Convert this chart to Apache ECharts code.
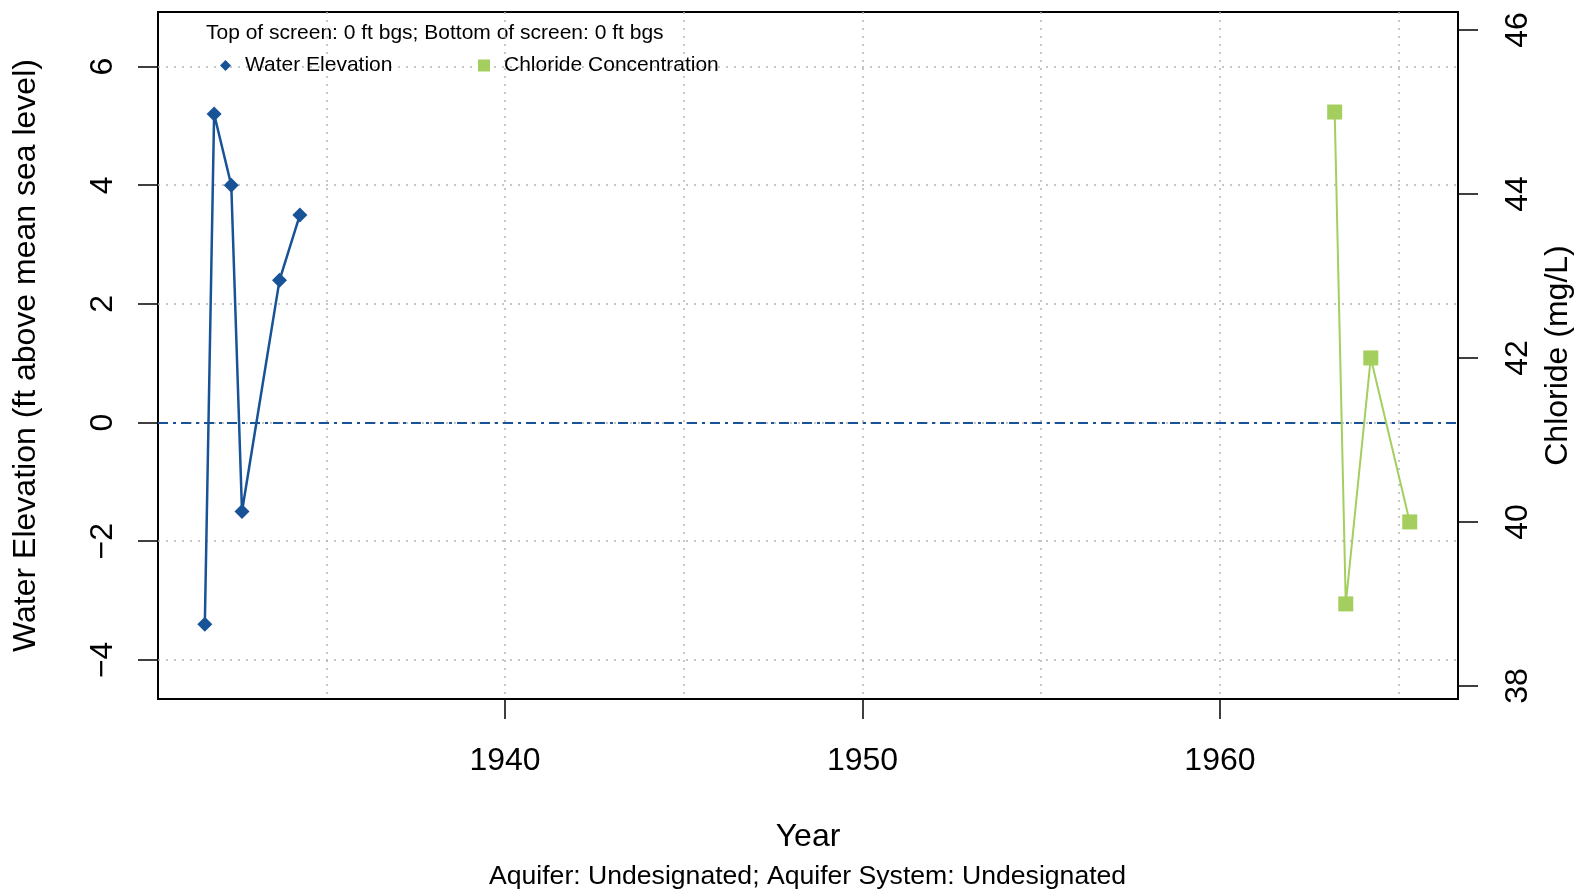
<!DOCTYPE html>
<html>
<head>
<meta charset="utf-8">
<script src="https://cdn.jsdelivr.net/npm/echarts@6/dist/echarts.min.js"></script>
<style>
html,body{margin:0;padding:0;background:#fff;}
#chart{width:1575px;height:892px;}
</style>
</head>
<body>
<div id="chart"></div>
<script>
// ---- data ----
const waterYears = [1931.60, 1931.86, 1932.34, 1932.64, 1933.69, 1934.26];
const waterElev = [-3.4, 5.2, 4.0, -1.5, 2.4, 3.5];
const chlorideYears = [1963.21, 1963.52, 1964.22, 1965.31];
const chlorideVals = [45, 39, 42, 40];
const xTickYears = [1940, 1950, 1960];
const xGridYears = [1935, 1940, 1945, 1950, 1955, 1960, 1965];
const leftTicks = [-4, -2, 0, 2, 4, 6];
const rightTicks = [38, 40, 42, 44, 46];
const referenceLevel = [0];
const headerText = 'Top of screen: 0 ft bgs; Bottom of screen: 0 ft bgs';
const subtitleText = 'Aquifer: Undesignated; Aquifer System: Undesignated';

const FONT = 'Liberation Sans, Arial, Helvetica, sans-serif';
const AXFS = 32;
const BLUE = '#175396';
const GREEN = '#A4CF5E';
const GRIDLINE = {color: '#b4b4b4', type: [2, 6], width: 1.5};
const fmtMinus = v => String(v).replace('-', '\u2212');
const X_MIN = 1930.29, X_MAX = 1966.66;

const chart = echarts.init(document.getElementById('chart'));
const option = {
  animation: false,
  backgroundColor: '#fff',
  textStyle: {fontFamily: FONT},
  grid: {left: 158, right: 117, top: 12, bottom: 193, show: true,
         containLabel: false, outerBoundsMode: 'none',
         borderColor: '#000', borderWidth: 2, backgroundColor: 'transparent'},
  xAxis: [
    {
      type: 'value', min: X_MIN, max: X_MAX, position: 'bottom',
      name: 'Year', nameLocation: 'middle', nameGap: 122,
      nameTextStyle: {fontSize: AXFS, color: '#000', fontFamily: FONT},
      axisLine: {show: false, onZero: false},
      axisTick: {show: true, length: 20, customValues: xTickYears, lineStyle: {color: '#000', width: 1.5}},
      axisLabel: {customValues: xTickYears, margin: 46, fontSize: AXFS, color: '#000', fontFamily: FONT,
                  formatter: v => String(v)},
      splitLine: {show: false}
    },
    {
      type: 'value', min: X_MIN, max: X_MAX, position: 'top',
      axisLine: {show: false, onZero: false},
      axisTick: {show: false, customValues: xGridYears},
      axisLabel: {show: false, customValues: xGridYears},
      splitLine: {show: true, lineStyle: GRIDLINE}
    }
  ],
  yAxis: [
    {
      type: 'value', position: 'left', min: -4.66, max: 6.92,
      name: 'Water Elevation (ft above mean sea level)', nameLocation: 'middle', nameGap: 116, nameRotate: 90,
      nameTextStyle: {fontSize: AXFS, color: '#000', fontFamily: FONT},
      axisLine: {show: false, onZero: false},
      axisTick: {show: true, length: 20, customValues: leftTicks, lineStyle: {color: '#000', width: 1.5}},
      axisLabel: {customValues: leftTicks, rotate: 90, margin: 39, fontSize: AXFS, color: '#000', fontFamily: FONT,
                  formatter: fmtMinus},
      splitLine: {show: true, lineStyle: GRIDLINE}
    },
    {
      type: 'value', position: 'right', min: 37.84, max: 46.22,
      name: 'Chloride (mg/L)', nameLocation: 'middle', nameGap: 81, nameRotate: 90,
      nameTextStyle: {fontSize: AXFS, color: '#000', fontFamily: FONT},
      axisLine: {show: false, onZero: false},
      axisTick: {show: true, length: 20, customValues: rightTicks, lineStyle: {color: '#000', width: 1.5}},
      axisLabel: {customValues: rightTicks, rotate: 90, margin: 44, fontSize: AXFS, color: '#000', fontFamily: FONT,
                  formatter: v => String(v)},
      splitLine: {show: false}
    }
  ],
  legend: [
    {left: 220, top: 55, itemWidth: 11, itemHeight: 11, itemGap: 0, padding: 0,
     textStyle: {fontSize: 21, color: '#000', fontFamily: FONT, padding: [0, 0, 0, 9]},
     data: [{name: 'Water Elevation', icon: 'diamond'}]},
    {left: 478, top: 55, itemWidth: 12, itemHeight: 12, itemGap: 0, padding: 0,
     textStyle: {fontSize: 21, color: '#000', fontFamily: FONT, padding: [0, 0, 0, 9]},
     data: [{name: 'Chloride Concentration', icon: 'rect'}]}
  ],
  graphic: [
    {type: 'text', left: 206, top: 23, style: {text: headerText, fontSize: 21, fill: '#000', fontFamily: FONT}},
    {type: 'text', left: 489, top: 863, style: {text: subtitleText, fontSize: 26.6, fill: '#000', fontFamily: FONT}}
  ],
  series: [
    {
      name: 'Water Elevation', type: 'line', xAxisIndex: 0, yAxisIndex: 0,
      data: waterYears.map((y, i) => [y, waterElev[i]]),
      symbol: 'diamond', symbolSize: 15,
      lineStyle: {color: BLUE, width: 2.5}, itemStyle: {color: BLUE},
      z: 5,
      markLine: {
        silent: true, symbol: 'none', label: {show: false},
        lineStyle: {color: BLUE, width: 2, type: [10, 5, 3, 5]},
        data: referenceLevel.map(v => ({yAxis: v}))
      }
    },
    {
      name: 'Chloride Concentration', type: 'line', xAxisIndex: 0, yAxisIndex: 1,
      data: chlorideYears.map((y, i) => [y, chlorideVals[i]]),
      symbol: 'rect', symbolSize: 15,
      lineStyle: {color: GREEN, width: 2}, itemStyle: {color: GREEN},
      z: 5
    }
  ]
};
chart.setOption(option);
</script>
</body>
</html>
